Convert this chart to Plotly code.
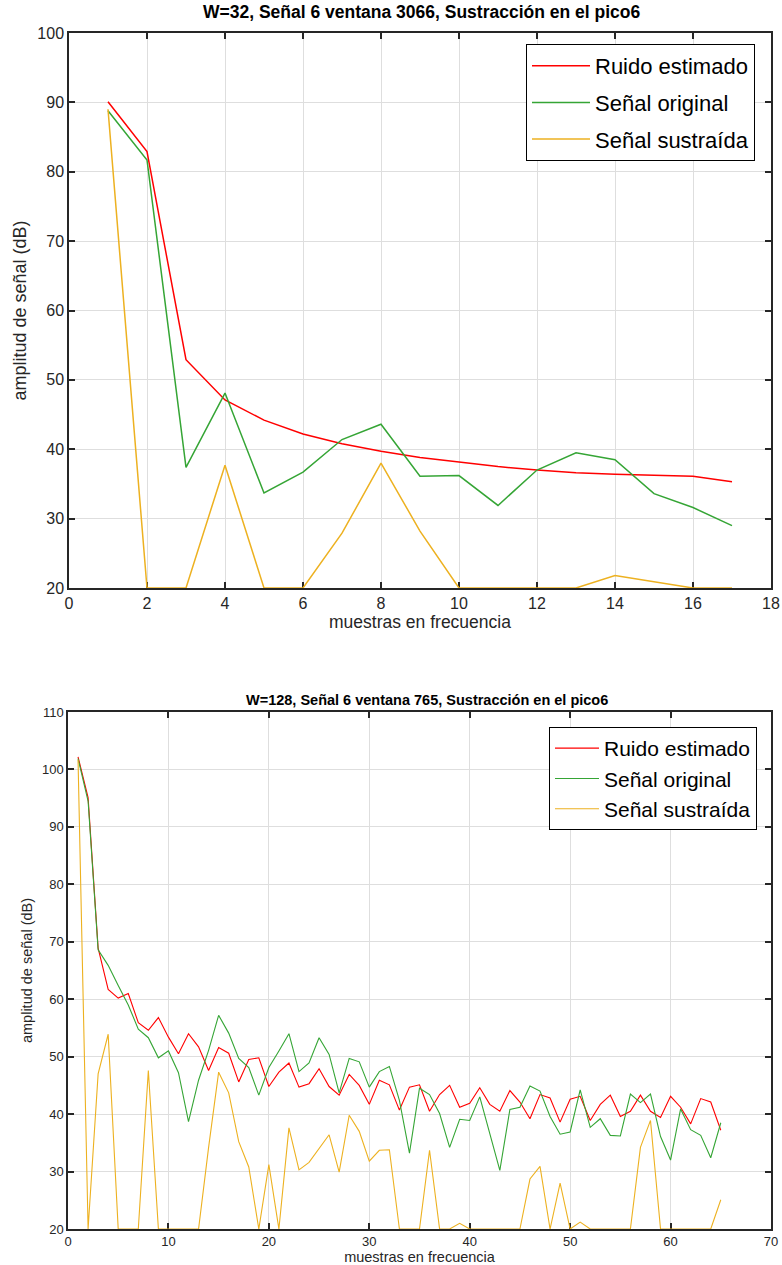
import plotly.graph_objects as go

# ---- Top chart data (W=32) ----
x_top = list(range(1, 18))
ruido_top = [90.1, 82.9, 52.9, 47.1, 44.2, 42.2, 40.8, 39.7, 38.8, 38.1, 37.5, 37.0, 36.6, 36.4, 36.2, 36.1, 35.3]
original_top = [88.8, 81.7, 37.4, 48.1, 33.7, 36.7, 41.4, 43.6, 36.1, 36.2, 31.9, 37.0, 39.5, 38.5, 33.6, 31.6, 29.0]
sustraida_top = [89.0, 20, 20, 37.7, 20, 20, 27.9, 38.0, 28.2, 20, 20, 20, 20, 21.8, 20.9, 20, 20]

# ---- Bottom chart data (W=128) ----
x_bot = list(range(1, 66))
ruido_bot = [102.2, 95.1, 68.9, 61.7, 60.2, 61.0, 55.9, 54.6, 56.8, 53.4,
             50.5, 54.0, 51.7, 47.6, 51.6, 50.6, 45.6, 49.5, 49.8, 44.8,
             47.3, 48.9, 44.7, 45.3, 47.9, 44.8, 43.3, 46.9, 45.0, 41.7,
             45.9, 45.1, 40.7, 44.7, 45.1, 40.5, 43.4, 45.0, 41.2, 41.9,
             44.6, 41.7, 40.5, 44.1, 42.1, 39.2, 43.4, 42.8, 38.6, 42.6,
             43.1, 38.9, 41.7, 43.3, 39.6, 40.5, 43.3, 40.5, 39.4, 43.1,
             41.2, 38.3, 42.7, 42.1, 37.2]
original_bot = [101.9, 94.5, 68.6, 65.9, 62.4, 59.0, 54.8, 53.3, 49.8, 51.0,
                47.2, 38.7, 45.9, 51.1, 57.2, 54.1, 49.7, 48.1, 43.3, 48.1,
                51.0, 54.0, 47.4, 48.9, 53.3, 50.4, 43.7, 49.7, 49.1, 44.7,
                47.4, 48.3, 42.4, 33.2, 44.5, 43.4, 40.1, 34.2, 39.1, 38.9,
                43.0, 36.6, 30.2, 40.8, 41.2, 44.9, 44.0, 39.6, 36.5, 36.9,
                44.2, 37.7, 39.2, 36.3, 36.2, 43.5, 42.0, 43.5, 36.1, 32.0,
                40.9, 37.3, 36.3, 32.4, 38.5]
sustraida_bot = [101.7, 20, 47.0, 53.9, 20, 20, 20, 47.6, 20, 20,
                 20, 20, 20, 34.2, 47.3, 43.7, 35.2, 30.8, 20, 31.2,
                 20, 37.6, 30.3, 31.6, 34.0, 36.4, 29.9, 39.8, 37.0, 31.8,
                 33.7, 33.8, 20, 20, 20, 33.7, 20, 20, 21.0, 20,
                 20, 20, 20, 20, 20, 28.7, 30.9, 20, 28.0, 20,
                 21.2, 20, 20, 20, 20, 20, 34.2, 38.9, 20, 20,
                 20, 20, 20, 20, 25.1]

names = ["Ruido estimado", "Señal original", "Señal sustraída"]
colors = ["#ff0000", "#35a535", "#edb120"]

title_top = "W=32, Señal 6 ventana 3066, Sustracción en el pico6"
title_bot = "W=128, Señal 6 ventana 765, Sustracción en el pico6"
xlabel = "muestras en frecuencia"
ylabel = "amplitud de señal (dB)"

FONT = "Liberation Sans, Arial, Helvetica, sans-serif"
AXC = "#262626"
GRID = "#dedede"

fig = go.Figure()

for i, (ys, nm) in enumerate(zip([ruido_top, original_top, sustraida_top], names)):
    fig.add_trace(go.Scatter(x=x_top, y=ys, mode="lines", name=nm,
                             line=dict(color=colors[i], width=1.5),
                             xaxis="x", yaxis="y", legend="legend",
                             legendgroup="t%d" % i))
for i, (ys, nm) in enumerate(zip([ruido_bot, original_bot, sustraida_bot], names)):
    fig.add_trace(go.Scatter(x=x_bot, y=ys, mode="lines", name=nm,
                             line=dict(color=colors[i], width=1.1),
                             xaxis="x2", yaxis="y2", legend="legend2",
                             legendgroup="b%d" % i))

def axis_common(fs):
    return dict(showline=True, linecolor=AXC, linewidth=1.5, mirror="ticks",
                ticks="inside", ticklen=6, tickcolor=AXC, tickwidth=1.5,
                showgrid=True, gridcolor=GRID, gridwidth=1, zeroline=False,
                automargin=False, layer="below traces",
                tickfont=dict(family=FONT, size=fs, color=AXC))

top_dom_y = [1 - 588 / 1265, 1 - 33 / 1265]
bot_dom_y = [1 - 1229 / 1265, 1 - 712 / 1265]

fig.update_layout(
    width=782, height=1265,
    margin=dict(l=0, r=0, t=0, b=0, autoexpand=False),
    paper_bgcolor="white", plot_bgcolor="white",
    showlegend=True,
    font=dict(family=FONT, color=AXC),
    xaxis=dict(domain=[69 / 782, 771 / 782], range=[0, 18], tick0=0, dtick=2,
               anchor="y",
               title=dict(text=xlabel, font=dict(family=FONT, size=17.5, color=AXC), standoff=2),
               **axis_common(16)),
    yaxis=dict(domain=top_dom_y, range=[20, 100], tick0=20, dtick=10,
               anchor="x",
               title=dict(text=ylabel, font=dict(family=FONT, size=18, color=AXC), standoff=6),
               **axis_common(16)),
    xaxis2=dict(domain=[68 / 782, 771 / 782], range=[0, 70], tick0=0, dtick=10,
                anchor="y2",
                title=dict(text=xlabel, font=dict(family=FONT, size=14.5, color=AXC), standoff=1),
                **axis_common(13)),
    yaxis2=dict(domain=bot_dom_y, range=[20, 110], tick0=20, dtick=10,
                anchor="x2",
                title=dict(text=ylabel, font=dict(family=FONT, size=14.5, color=AXC), standoff=6),
                **axis_common(13)),
    legend=dict(x=755 / 782, y=1 - 44 / 1265, xanchor="right", yanchor="top",
                bgcolor="white", bordercolor="#000000", borderwidth=1,
                font=dict(family=FONT, size=22, color="#000000"),
                itemwidth=58, traceorder="grouped", tracegroupgap=5),
    legend2=dict(x=757 / 782, y=1 - 727 / 1265, xanchor="right", yanchor="top",
                 bgcolor="white", bordercolor="#000000", borderwidth=1,
                 font=dict(family=FONT, size=21, color="#000000"),
                 itemwidth=44, traceorder="grouped", tracegroupgap=0),
    annotations=[
        dict(text="<b>%s</b>" % title_top, x=422 / 782, y=1 - 12 / 1265,
             xref="paper", yref="paper", xanchor="center", yanchor="middle",
             showarrow=False, font=dict(family=FONT, size=17.5, color="#000000")),
        dict(text="<b>%s</b>" % title_bot, x=427 / 782, y=1 - 700 / 1265,
             xref="paper", yref="paper", xanchor="center", yanchor="middle",
             showarrow=False, font=dict(family=FONT, size=14.5, color="#000000")),
    ],
)

fig.write_html("out.html")
